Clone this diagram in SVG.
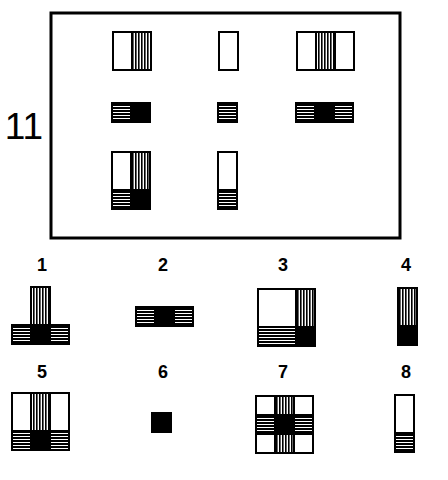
<svg xmlns="http://www.w3.org/2000/svg" width="448" height="480" viewBox="0 0 448 480">
<defs>
<pattern id="V" patternUnits="userSpaceOnUse" width="3" height="3"><rect width="3" height="3" fill="#fff"/><rect width="1.6" height="3" fill="#000"/></pattern>
<pattern id="H" patternUnits="userSpaceOnUse" width="3" height="3"><rect width="3" height="3" fill="#000"/><rect y="1" width="3" height="1" fill="#fff"/></pattern>
</defs>
<style>
rect.c{stroke:#000;stroke-width:2}
.w{fill:#fff}.v{fill:url(#V)}.h{fill:url(#H)}.k{fill:#000}
.o{fill:none;stroke:#000;stroke-width:3}
.lbl{font-family:"Liberation Sans",Arial,sans-serif;font-weight:bold;font-size:18px;text-anchor:middle}
</style>
<rect width="448" height="480" fill="#fff"/>
<rect class="o" x="51" y="13" width="349" height="225"/>
<text x="24" y="139" font-family="Liberation Sans,Arial,sans-serif" font-size="37" text-anchor="middle">11</text>

<g id="a1"><rect class="c w" x="113" y="32" width="19" height="38"/><rect class="c v" x="132" y="32" width="19" height="38"/></g>
<g id="a2"><rect class="c w" x="219" y="32" width="19" height="38"/></g>
<g id="a3"><rect class="c w" x="297" y="32" width="19" height="38"/><rect class="c v" x="316" y="32" width="19" height="38"/><rect class="c w" x="335" y="32" width="19" height="38"/></g>
<g id="b1"><rect class="c h" x="112" y="103" width="19" height="19"/><rect class="c k" x="131" y="103" width="19" height="19"/></g>
<g id="b2"><rect class="c h" x="218" y="103" width="19" height="19"/></g>
<g id="b3"><rect class="c h" x="296" y="103" width="19" height="19"/><rect class="c k" x="315" y="103" width="19" height="19"/><rect class="c h" x="334" y="103" width="19" height="19"/></g>
<g id="c1"><rect class="c w" x="112" y="152" width="19" height="38"/><rect class="c v" x="131" y="152" width="19" height="38"/><rect class="c h" x="112" y="190" width="19" height="19"/><rect class="c k" x="131" y="190" width="19" height="19"/></g>
<g id="c2"><rect class="c w" x="218" y="152" width="19" height="38"/><rect class="c h" x="218" y="190" width="19" height="19"/></g>

<g id="opt1"><text class="lbl" x="42" y="271">1</text><rect class="c v" x="31" y="287" width="19" height="38"/><rect class="c h" x="12" y="325" width="19" height="19"/><rect class="c k" x="31" y="325" width="19" height="19"/><rect class="c h" x="50" y="325" width="19" height="19"/></g>
<g id="opt2"><text class="lbl" x="163" y="271">2</text><rect class="c h" x="136" y="307" width="19" height="19"/><rect class="c k" x="155" y="307" width="19" height="19"/><rect class="c h" x="174" y="307" width="19" height="19"/></g>
<g id="opt3"><text class="lbl" x="283" y="271">3</text><rect class="c w" x="258" y="289" width="38" height="38"/><rect class="c v" x="296" y="289" width="19" height="38"/><rect class="c h" x="258" y="327" width="38" height="19"/><rect class="c k" x="296" y="327" width="19" height="19"/></g>
<g id="opt4"><text class="lbl" x="406" y="271">4</text><rect class="c v" x="398" y="288" width="19" height="38"/><rect class="c k" x="398" y="326" width="19" height="19"/></g>
<g id="opt5"><text class="lbl" x="42" y="378">5</text><rect class="c w" x="12" y="393" width="19" height="38"/><rect class="c v" x="31" y="393" width="19" height="38"/><rect class="c w" x="50" y="393" width="19" height="38"/><rect class="c h" x="12" y="431" width="19" height="19"/><rect class="c k" x="31" y="431" width="19" height="19"/><rect class="c h" x="50" y="431" width="19" height="19"/></g>
<g id="opt6"><text class="lbl" x="163" y="378">6</text><rect class="c k" x="152" y="413" width="19" height="19"/></g>
<g id="opt7"><text class="lbl" x="283" y="378">7</text><rect class="c w" x="256" y="396" width="19" height="19"/><rect class="c v" x="275" y="396" width="19" height="19"/><rect class="c w" x="294" y="396" width="19" height="19"/><rect class="c h" x="256" y="415" width="19" height="19"/><rect class="c k" x="275" y="415" width="19" height="19"/><rect class="c h" x="294" y="415" width="19" height="19"/><rect class="c w" x="256" y="434" width="19" height="19"/><rect class="c v" x="275" y="434" width="19" height="19"/><rect class="c w" x="294" y="434" width="19" height="19"/></g>
<g id="opt8"><text class="lbl" x="406" y="378">8</text><rect class="c w" x="395" y="395" width="19" height="38"/><rect class="c h" x="395" y="433" width="19" height="19"/></g>
</svg>
